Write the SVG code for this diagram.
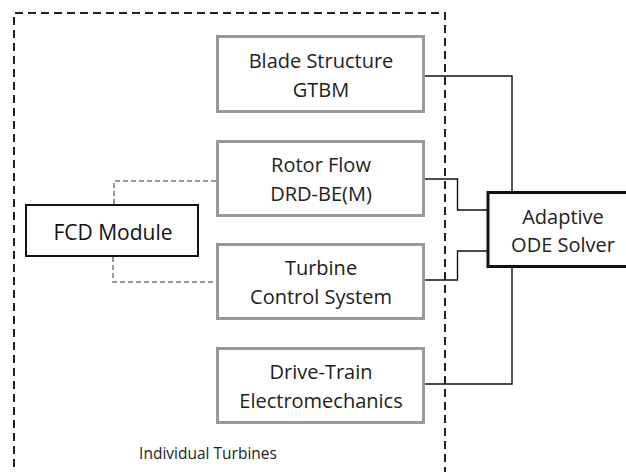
<svg xmlns="http://www.w3.org/2000/svg" width="626" height="472" viewBox="0 0 626 472">
<style>
.bg{fill:#fff}
.mod{fill:#fff;stroke:#999;stroke-width:3}
.t{font-family:"Open Sans","Liberation Sans",sans-serif;font-size:20px;fill:#222;text-anchor:middle}
.wire{fill:none;stroke:#111;stroke-width:1.4}
.dash{fill:none;stroke:#777;stroke-width:1.5;stroke-dasharray:5 3}
.outer{fill:none;stroke:#222;stroke-width:2;stroke-dasharray:8 5}
</style>
<rect class="bg" x="0" y="0" width="626" height="472"/>
<g id="individual-turbines">
<path class="outer" d="M14,480 V13 H445 V480"/>
<text x="208" y="459" class="t" style="font-size:15.5px">Individual Turbines</text>
</g>
<g id="connectors">
<path class="wire" d="M425,76 H512 V191"/>
<path class="wire" d="M425,179 H457.5 V210 H487"/>
<path class="wire" d="M425,280 H457.5 V251 H487"/>
<path class="wire" d="M425,384 H512 V267"/>
<path class="dash" d="M114,204 V181 H216"/>
<path class="dash" d="M113,257 V282 H216"/>
</g>
<g id="blade-structure">
<rect class="mod" x="217.5" y="36.5" width="206" height="75"/>
<text class="t" x="321" y="68">Blade Structure</text>
<text class="t" x="321" y="97">GTBM</text>
</g>
<g id="rotor-flow">
<rect class="mod" x="217.5" y="141.5" width="206" height="74"/>
<text class="t" x="321" y="172">Rotor Flow</text>
<text class="t" x="321" y="201">DRD-BE(M)</text>
</g>
<g id="turbine-control">
<rect class="mod" x="217.5" y="244.5" width="206" height="74"/>
<text class="t" x="321" y="275">Turbine</text>
<text class="t" x="321" y="304">Control System</text>
</g>
<g id="drive-train">
<rect class="mod" x="217.5" y="348.5" width="206" height="74"/>
<text class="t" x="321" y="379">Drive-Train</text>
<text class="t" x="321" y="408">Electromechanics</text>
</g>
<g id="fcd-module">
<rect x="26" y="205" width="172" height="51" fill="#fff" stroke="#111" stroke-width="2"/>
<text class="t" x="113" y="240" style="font-size:21px;fill:#111">FCD Module</text>
</g>
<g id="ode-solver">
<rect x="488" y="192.5" width="150" height="74" fill="#fff" stroke="#111" stroke-width="3"/>
<text class="t" x="563" y="224">Adaptive</text>
<text class="t" x="563" y="252">ODE Solver</text>
</g>
</svg>
